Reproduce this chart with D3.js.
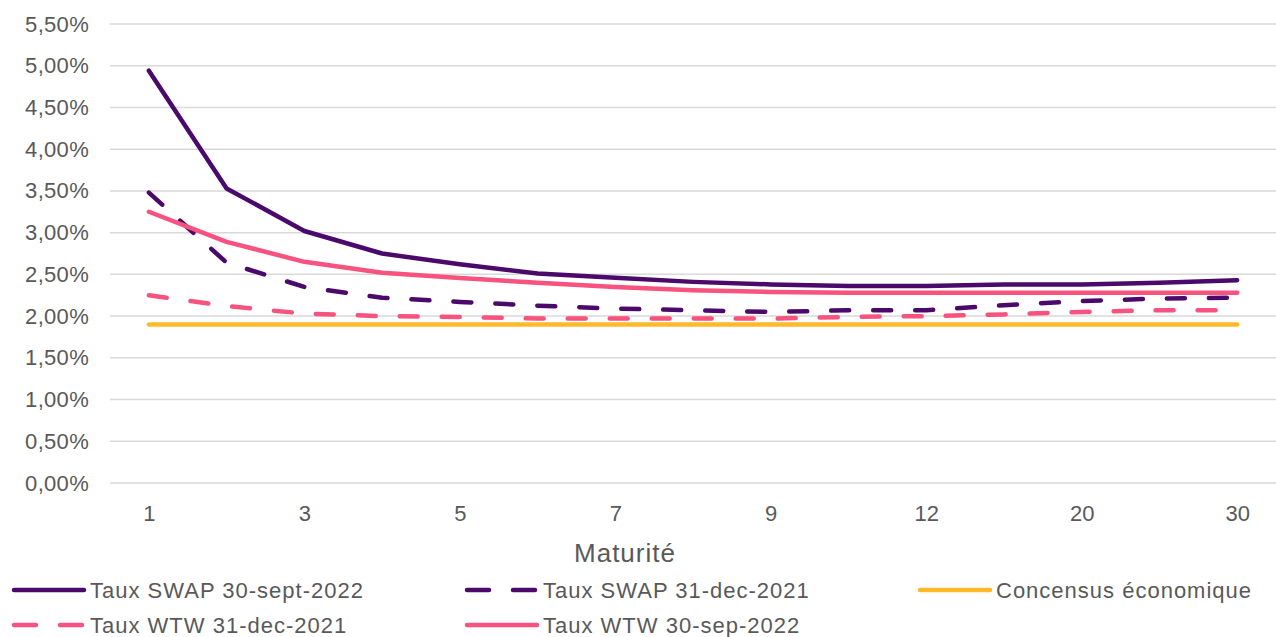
<!DOCTYPE html>
<html>
<head>
<meta charset="utf-8">
<script src="https://cdn.jsdelivr.net/npm/d3@7"></script>
<style>
  html, body { margin: 0; padding: 0; background: #fff; }
  svg { display: block; font-family: "Liberation Sans", Arial, sans-serif; }
</style>
</head>
<body>
<svg id="chart" width="1276" height="637"></svg>
<script>
// ---- data ----
const maturities = ["1","2","3","4","5","6","7","8","9","10","12","15","20","25","30"];
const tickLabels = ["1","3","5","7","9","12","20","30"];
const yTicks = [0, 0.5, 1, 1.5, 2, 2.5, 3, 3.5, 4, 4.5, 5, 5.5];

const swap2022 = [4.94, 3.53, 3.02, 2.75, 2.62, 2.51, 2.46, 2.41, 2.38, 2.36, 2.36, 2.38, 2.38, 2.40, 2.43];
const swap2021 = [3.48, 2.64, 2.35, 2.22, 2.17, 2.125, 2.09, 2.07, 2.05, 2.07, 2.07, 2.13, 2.18, 2.21, 2.22];
const consensus = [1.9, 1.9, 1.9, 1.9, 1.9, 1.9, 1.9, 1.9, 1.9, 1.9, 1.9, 1.9, 1.9, 1.9, 1.9];
const wtw2021 = [2.25, 2.12, 2.03, 2.00, 1.99, 1.97, 1.97, 1.97, 1.97, 1.99, 2.00, 2.02, 2.05, 2.07, 2.07];
const wtw2022 = [3.25, 2.89, 2.65, 2.52, 2.455, 2.40, 2.35, 2.31, 2.29, 2.28, 2.28, 2.28, 2.28, 2.28, 2.28];

const seriesNames = ["Taux SWAP 30-sept-2022", "Taux SWAP 31-dec-2021", "Concensus économique", "Taux WTW 31-dec-2021", "Taux WTW 30-sep-2022"];
const seriesValues = [swap2022, swap2021, consensus, wtw2021, wtw2022];
const seriesColors = ["#4b0a6b", "#4b0a6b", "#ffb92a", "#f8527f", "#f8527f"];
const seriesDashed = [false, true, false, true, false];

// ---- layout ----
const svg = d3.select("#chart");
const plot = { left: 110, right: 1276, top: 24, bottom: 483 };

const x = d3.scalePoint().domain(maturities).range([plot.left, plot.right]).padding(0.5);
const y = d3.scaleLinear().domain([0, 5.5]).range([plot.bottom, plot.top]);

const textColor = "#595959";
const fmt = v => d3.format(".2f")(v).replace(".", ",") + "%";

// gridlines
svg.append("g").selectAll("line").data(yTicks).join("line")
  .attr("x1", plot.left).attr("x2", plot.right)
  .attr("y1", d => y(d)).attr("y2", d => y(d))
  .attr("stroke", "#d9d9d9").attr("stroke-width", 1.5);

// y axis labels
const yAxis = d3.axisLeft(y).tickValues(yTicks).tickFormat(fmt).tickSize(0).tickPadding(0);
const gy = svg.append("g").attr("transform", `translate(89,0)`).call(yAxis);
gy.select(".domain").remove();
gy.selectAll("text").attr("fill", textColor).style("font-size", "22px")
  .style("letter-spacing", "0.3px")
  .style("font-family", "'Liberation Sans', Arial, sans-serif");

// x axis labels
const xAxis = d3.axisBottom(x).tickValues(tickLabels).tickSize(0).tickPadding(0);
const gx = svg.append("g").attr("transform", `translate(0,${plot.bottom + 22})`).call(xAxis);
gx.select(".domain").remove();
gx.selectAll("text").attr("fill", textColor).style("font-size", "22px")
  .style("font-family", "'Liberation Sans', Arial, sans-serif");

// axis title
svg.append("text").attr("x", 625).attr("y", 562)
  .attr("text-anchor", "middle").attr("fill", textColor)
  .style("font-size", "26px").style("letter-spacing", "1px").text("Maturité");

// lines
const line = d3.line().x((d, i) => x(maturities[i])).y(d => y(d));
const drawOrder = [2, 3, 1, 4, 0];
drawOrder.forEach(k => {
  svg.append("path").datum(seriesValues[k])
    .attr("d", line)
    .attr("fill", "none")
    .attr("stroke", seriesColors[k])
    .attr("stroke-width", 4.5)
    .attr("stroke-linecap", "round")
    .attr("stroke-linejoin", "round")
    .attr("stroke-dasharray", seriesDashed[k] ? "18,24" : null);
});

// legend
const legendPos = [
  { x: 12, y: 590 }, { x: 465, y: 590 }, { x: 918, y: 590 },
  { x: 12, y: 625 }, { x: 465, y: 625 }
];
const lg = svg.append("g");
seriesNames.forEach((name, k) => {
  const p = legendPos[k];
  lg.append("line").attr("x1", p.x + 2).attr("x2", p.x + 72)
    .attr("y1", p.y).attr("y2", p.y)
    .attr("stroke", seriesColors[k]).attr("stroke-width", 4.5)
    .attr("stroke-linecap", "round")
    .attr("stroke-dasharray", seriesDashed[k] ? "22,24" : null);
  lg.append("text").attr("x", p.x + 78).attr("y", p.y).attr("dy", "0.35em")
    .attr("fill", textColor).style("font-size", "22px").style("letter-spacing", "1px").text(name);
});
</script>
</body>
</html>
